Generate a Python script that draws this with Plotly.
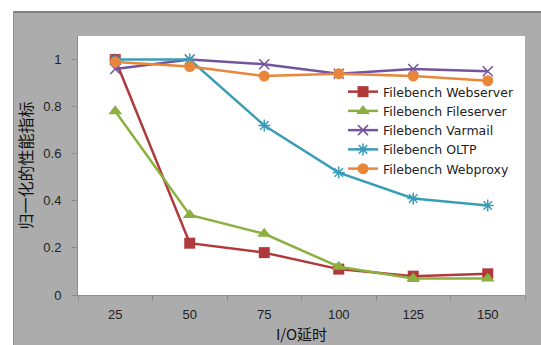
import plotly.graph_objects as go

# I/O latency categories and normalised performance per Filebench workload
latency = ["25", "50", "75", "100", "125", "150"]
webserver = [1.0, 0.22, 0.18, 0.11, 0.08, 0.09]
fileserver = [0.78, 0.34, 0.26, 0.12, 0.07, 0.07]
varmail = [0.96, 1.0, 0.98, 0.94, 0.96, 0.95]
oltp = [1.0, 1.0, 0.72, 0.52, 0.41, 0.38]
webproxy = [0.99, 0.97, 0.93, 0.94, 0.93, 0.91]
y_ticks = [0, 0.2, 0.4, 0.6, 0.8, 1]
y_tick_text = ["0", "0.2", "0.4", "0.6", "0.8", "1"]

W, H = 541, 345
L, R, T, B = 78, 525, 36, 295  # plot area in pixels
FX, FY = 13, 11                # top-left corner of the grey chart frame
FRAME_GREY = "rgb(172,172,172)"

series = [
    ("Filebench Webserver", webserver, "rgb(176,57,59)", dict(symbol="square", size=11)),
    ("Filebench Fileserver", fileserver, "rgb(140,176,64)", dict(symbol="triangle-up", size=12)),
    ("Filebench Varmail", varmail, "rgb(115,84,160)", dict(symbol="x-thin-open", size=10, line=dict(width=1.5, color="rgb(115,84,160)"))),
    ("Filebench OLTP", oltp, "rgb(58,157,184)", dict(symbol="asterisk-open", size=10, line=dict(width=1.5, color="rgb(58,157,184)"))),
    ("Filebench Webproxy", webproxy, "rgb(232,135,58)", dict(symbol="circle", size=11)),
]

fig = go.Figure()

# Page decoration on a full-size pixel subplot (x/y): white page margins,
# white plotting area and the darker frame edges of the grey chart box.
def rect(x0, y0, x1, y1):
    return [x0, x1, x1, x0, x0], [y0, y0, y1, y1, y0]

for (x0, y0, x1, y1) in [(0, 0, W, FY), (0, 0, FX, H), (L, T, R, B)]:
    xs, ys = rect(x0, y0, x1, y1)
    fig.add_trace(go.Scatter(x=xs, y=ys, mode="lines", fill="toself",
                             fillcolor="rgb(255,255,255)", line=dict(width=0, color="rgb(255,255,255)"),
                             showlegend=False, hoverinfo="skip", xaxis="x", yaxis="y"))
fig.add_trace(go.Scatter(x=[FX, W], y=[FY + 1, FY + 1], mode="lines",
                         line=dict(color="rgb(128,128,128)", width=2),
                         showlegend=False, hoverinfo="skip", xaxis="x", yaxis="y"))
fig.add_trace(go.Scatter(x=[FX + 0.5, FX + 0.5], y=[FY, H], mode="lines",
                         line=dict(color="rgb(150,150,150)", width=1),
                         showlegend=False, hoverinfo="skip", xaxis="x", yaxis="y"))

# Data series on the chart subplot (x2/y2)
for name, vals, color, mk in series:
    fig.add_trace(go.Scatter(
        x=latency, y=vals, name=name, mode="lines+markers",
        line=dict(color=color, width=2.5),
        marker=dict(color=color, **mk),
        xaxis="x2", yaxis="y2",
    ))

fig.update_layout(
    width=W, height=H,
    margin=dict(l=0, r=0, t=0, b=0),
    paper_bgcolor=FRAME_GREY,
    plot_bgcolor="rgba(0,0,0,0)",
    font=dict(family="Liberation Sans, Arial, sans-serif", size=13, color="rgb(34,34,34)"),
    showlegend=True,
    legend=dict(
        x=343 / W, y=1 - 77 / H, xanchor="left", yanchor="top",
        bgcolor="rgba(0,0,0,0)",
        font=dict(family="DejaVu Sans, sans-serif", size=12.5, color="rgb(34,34,34)"),
        tracegroupgap=0, itemwidth=30,
    ),
    xaxis=dict(domain=[0, 1], range=[0, W], visible=False, fixedrange=True),
    yaxis=dict(domain=[0, 1], range=[H, 0], visible=False, fixedrange=True),
    xaxis2=dict(
        domain=[L / W, R / W], anchor="y2",
        type="category", range=[-0.5, 5.5], tickson="boundaries",
        ticks="outside", ticklen=5, tickcolor="rgb(140,140,140)",
        ticklabelstandoff=7, automargin=False,
        showline=True, linecolor="rgb(140,140,140)", linewidth=1,
        showgrid=False, zeroline=False,
        tickfont=dict(size=13, color="rgb(34,34,34)"),
        title=dict(text="I/O延时", standoff=8,
                   font=dict(family="Noto Sans CJK SC, Liberation Sans, sans-serif", size=15, color="rgb(17,17,17)")),
    ),
    yaxis2=dict(
        domain=[1 - B / H, 1 - T / H], anchor="x2",
        range=[0, 1.1], tickvals=y_ticks, ticktext=y_tick_text,
        ticks="outside", ticklen=5, tickcolor="rgb(140,140,140)",
        ticklabelstandoff=8, automargin=False,
        showline=True, linecolor="rgb(140,140,140)", linewidth=1,
        showgrid=False, zeroline=False,
        tickfont=dict(size=13, color="rgb(34,34,34)"),
        title=dict(text="归一化的性能指标", standoff=6,
                   font=dict(family="Noto Sans CJK SC, sans-serif", size=16, color="rgb(17,17,17)")),
    ),
)

fig.write_html("out.html")
